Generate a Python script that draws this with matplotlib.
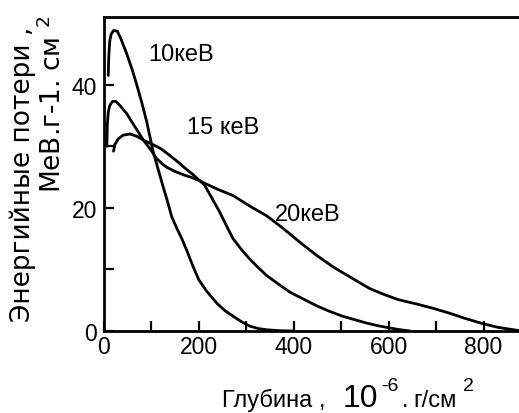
import matplotlib
matplotlib.use("Agg")
import matplotlib.pyplot as plt

plt.rcParams['font.family'] = ['Liberation Sans', 'DejaVu Sans']
plt.rcParams['mathtext.fontset'] = 'custom'
plt.rcParams['mathtext.rm'] = 'DejaVu Sans'
plt.rcParams['mathtext.it'] = 'DejaVu Sans'

# Depth (10^-6 g/cm^2) and energy loss, one pair per curve
x_10 = [9, 10, 12, 15, 20, 28, 36, 48, 60, 69, 80, 90, 104, 114, 124, 134, 143, 154, 164, 176, 187,
        200, 216, 238, 255, 272, 290, 307, 325, 343, 370, 400]
y_10 = [41.5, 44.5, 47.0, 48.2, 48.8, 48.7, 47.4, 45.0, 42.3, 40.0, 37.0, 34.0, 29.0, 26.3, 23.6, 21.0,
        18.5, 16.6, 15.0, 12.8, 10.6, 8.3, 6.5, 4.5, 3.3, 2.4, 1.5, 0.8, 0.4, 0.2, 0.05, 0.0]

x_15 = [6, 7, 9, 12, 18, 25, 35, 48, 60, 70, 83, 97, 111, 122, 132, 150, 170, 186, 202, 212, 228, 244,
        260, 272, 290, 307, 325, 343, 368, 392, 420, 448, 475, 503, 530, 553, 575, 595, 620, 645]
y_15 = [30.0, 33.5, 35.5, 36.6, 37.3, 37.3, 36.5, 35.3, 33.8, 32.6, 31.0, 29.6, 28.0, 27.2, 26.6,
        25.9, 25.3, 24.9, 24.4, 23.7, 21.5, 19.3, 16.8, 15.0, 13.2, 11.7, 10.3, 9.0, 7.6, 6.3, 5.2, 4.1,
        3.2, 2.4, 1.8, 1.3, 0.9, 0.6, 0.25, 0.0]

x_20 = [20, 23, 30, 40, 55, 70, 83, 100, 120, 139, 155, 170, 186, 202, 212, 240, 272, 307, 343, 377,
        413, 448, 483, 518, 540, 560, 588, 620, 658, 693, 728, 763, 798, 830, 855, 880]
y_20 = [29.2, 30.3, 31.2, 31.8, 32.0, 31.6, 31.0, 30.4, 29.6, 28.5, 27.5, 26.5, 25.5, 24.4, 24.0, 23.0,
        22.0, 20.3, 18.7, 16.7, 14.4, 12.3, 10.4, 8.8, 7.8, 6.9, 6.0, 5.1, 4.4, 3.7, 2.9, 2.0, 1.2, 0.6,
        0.3, 0.0]

curve_labels = ["10кеВ", "15 кеВ", "20кеВ"]
label_pos = [(93, 45.0), (175, 33.1), (360, 19.0)]

x_ticks = [0, 100, 200, 300, 400, 500, 600, 700, 800]
x_ticklabels = ["0", "", "200", "", "400", "", "600", "", "800"]
y_ticks = [0, 10, 20, 30, 40]
y_ticklabels = ["0", "", "20", "", "40"]

W, H = 519, 414
fig = plt.figure(figsize=(W / 100, H / 100), dpi=100)
ax = fig.add_axes([104 / W, 82 / H, 427 / W, 314 / H])

for xs, ys in [(x_10, y_10), (x_15, y_15), (x_20, y_20)]:
    ax.plot(xs, ys, color='black', lw=2.0, solid_capstyle='round', solid_joinstyle='round')

for txt, (lx, ly) in zip(curve_labels, label_pos):
    ax.text(lx, ly, txt, fontsize=17, ha='left', va='center', color='black')

ax.set_xlim(0, 900)
ax.set_ylim(0, 51)
ax.set_xticks(x_ticks)
ax.set_xticklabels(x_ticklabels)
ax.set_yticks(y_ticks)
ax.set_yticklabels(y_ticklabels)
ax.tick_params(direction='in', length=7, width=1.6, labelsize=16.5)
ax.tick_params(axis='x', pad=3)
ax.tick_params(axis='y', pad=5)

ax.spines['right'].set_visible(False)
for s in ['left', 'bottom', 'top']:
    ax.spines[s].set_linewidth(2.0)

# y axis title in two rotated lines
fig.text(23 / W, 1 - 27 / H, "Энергийные потери ,", rotation=90, ha='center', va='top',
         fontsize=19, family=['DejaVu Sans'])
fig.text(53 / W, 1 - 16 / H, "МеВ.г-1. см $^{2}$", rotation=90, ha='center', va='top',
         fontsize=19, family=['DejaVu Sans'])

# x axis title in pieces, the "10" is set larger than the rest
base = 1 - 407 / H
fig.text(222 / W, base, "Глубина ,", fontsize=17, ha='left', va='baseline')
fig.text(343 / W, base, "10", fontsize=23, ha='left', va='baseline')
fig.text(381 / W, 1 - 391 / H, "-6", fontsize=14, ha='left', va='baseline')
fig.text(402 / W, base, ".", fontsize=17, ha='left', va='baseline')
fig.text(413 / W, base, "г/см", fontsize=17, ha='left', va='baseline')
fig.text(463 / W, 1 - 391 / H, "2", fontsize=14, ha='left', va='baseline')

fig.savefig("out.png", dpi=100)
